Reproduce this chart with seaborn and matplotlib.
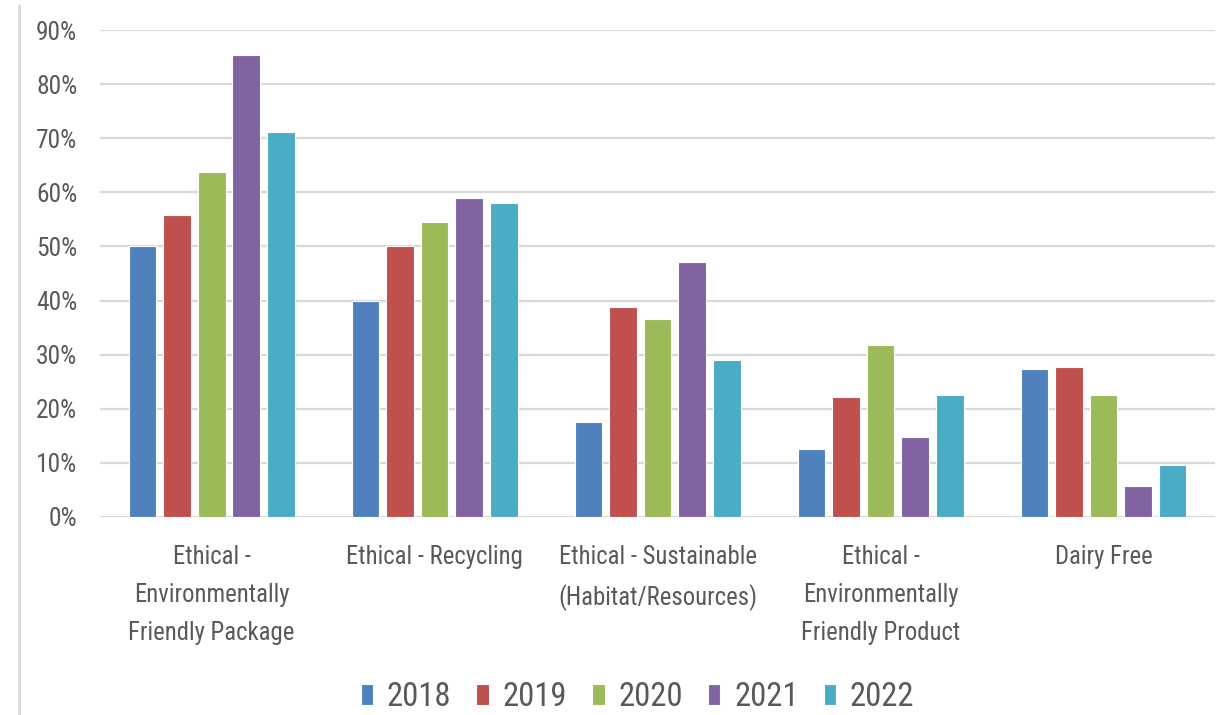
import matplotlib
matplotlib.use("Agg")
import matplotlib.pyplot as plt
from matplotlib.lines import Line2D
from matplotlib.ticker import PercentFormatter, MultipleLocator
import seaborn as sns
import pandas as pd

categories = [
    "Ethical -\nEnvironmentally\nFriendly Package",
    "Ethical - Recycling",
    "Ethical - Sustainable\n(Habitat/Resources)",
    "Ethical -\nEnvironmentally\nFriendly Product",
    "Dairy Free",
]
years = ["2018", "2019", "2020", "2021", "2022"]

values_2018 = [0.500, 0.400, 0.176, 0.125, 0.273]
values_2019 = [0.558, 0.501, 0.389, 0.222, 0.277]
values_2020 = [0.637, 0.545, 0.365, 0.317, 0.226]
values_2021 = [0.853, 0.590, 0.472, 0.147, 0.057]
values_2022 = [0.711, 0.581, 0.291, 0.226, 0.096]

colors = ["#4F81BD", "#C0504D", "#9BBB59", "#8064A2", "#4BACC6"]

series = [values_2018, values_2019, values_2020, values_2021, values_2022]
rows = []
for year, vals in zip(years, series):
    for cat, v in zip(categories, vals):
        rows.append({"category": cat, "year": year, "share": v})
df = pd.DataFrame(rows)

sns.set_theme(style="white")
plt.rcParams["font.family"] = ["Roboto Condensed", "DejaVu Sans"]

W, H = 1227, 715
fig = plt.figure(figsize=(W / 100, H / 100), dpi=100)
ax = fig.add_axes([100.2 / W, (H - 517) / H, (1215 - 100.2) / W, (517 - 30) / H])

sns.barplot(
    data=df, x="category", y="share", hue="year",
    order=categories, hue_order=years, palette=colors, saturation=1,
    width=0.775, gap=0.2, edgecolor="white", linewidth=0.8,
    errorbar=None, ax=ax, zorder=3, legend=False,
)

ax.set_ylim(0, 0.9)
ax.set_xlim(-0.5, len(categories) - 0.5)
ax.yaxis.set_major_locator(MultipleLocator(0.1))
ax.yaxis.set_major_formatter(PercentFormatter(1.0, decimals=0))
ax.grid(axis="y", color="#D9D9D9", linewidth=1.6, zorder=0)
ax.set_axisbelow(True)
for s in ax.spines.values():
    s.set_visible(False)
ax.set_xlabel("")
ax.set_ylabel("")
ax.tick_params(axis="y", length=0, pad=16.5, labelsize=18.4, labelcolor="#595959")
ax.tick_params(axis="x", length=0, pad=20.5, labelsize=17.8, labelcolor="#595959")
for lbl in ax.get_xticklabels():
    lbl.set_linespacing(1.72)
    lbl.set_ha("center")

handles = [plt.Rectangle((0, 0), 1, 1, facecolor=c, edgecolor="white", linewidth=0.8) for c in colors]
fig.legend(
    handles, years, loc="center", bbox_to_anchor=(637.5 / W, 1 - 697 / H),
    ncol=5, frameon=False, fontsize=23.5, labelcolor="#595959",
    handlelength=0.38, handleheight=0.65, handletextpad=0.42, columnspacing=0.77,
    borderaxespad=0, borderpad=0,
)

fig.add_artist(Line2D([19 / W, 19 / W], [0, 1 - 5 / H], color="#D9D9D9", linewidth=2))

fig.savefig("out.png", dpi=100, facecolor="white")
